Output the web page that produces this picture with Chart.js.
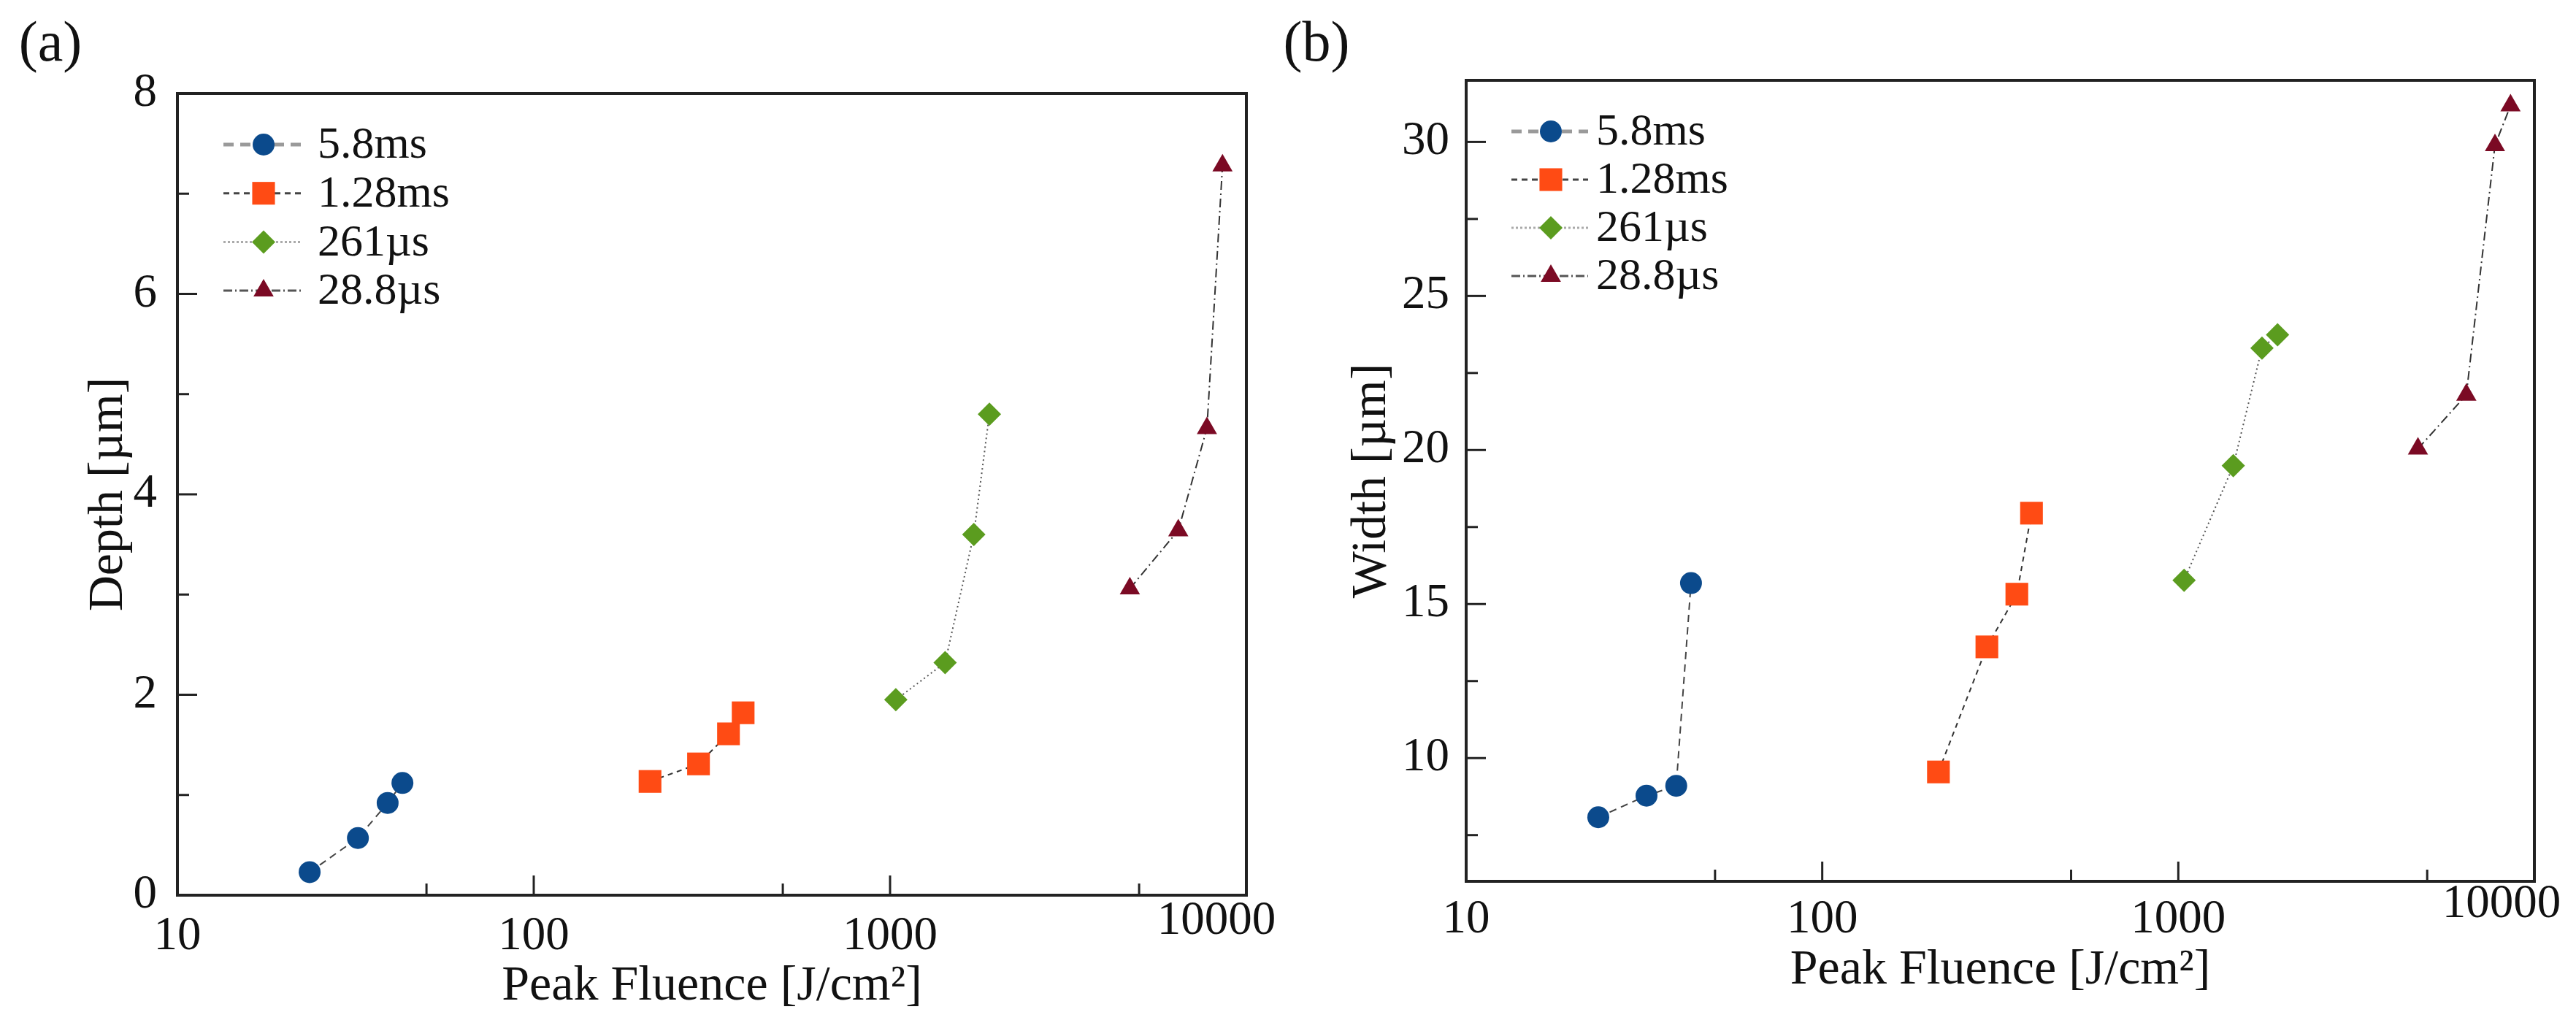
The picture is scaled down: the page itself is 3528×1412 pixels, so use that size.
<!DOCTYPE html>
<html><head><meta charset="utf-8">
<script src="https://cdn.jsdelivr.net/npm/chart.js@4.4.1/dist/chart.umd.min.js"></script>
<style>
html,body{margin:0;padding:0;background:#fff;font-family:"Liberation Serif","DejaVu Serif",serif;}
#wrap{position:relative;width:3528px;height:1412px;overflow:hidden;background:#fff;}
canvas{position:absolute;top:0;}
</style></head><body>
<div id="wrap">
<canvas id="ca" width="1764" height="1412" style="left:0;width:1764px;height:1412px"></canvas>
<canvas id="cb" width="1848" height="1412" style="left:1680px;width:1848px;height:1412px"></canvas>
</div>
<script>
// ---------- data ----------
const seriesLabels = ['5.8ms', '1.28ms', '261µs', '28.8µs'];
const fluence58  = [23.5, 32.1, 38.9, 42.8];
const fluence128 = [212, 290, 352, 387];
const fluence261 = [1038, 1427, 1718, 1900];
const fluence288 = [4710, 6440, 7750, 8570];
const depth58  = [0.23, 0.57, 0.92, 1.12];
const depth128 = [1.135, 1.31, 1.61, 1.82];
const depth261 = [1.95, 2.32, 3.60, 4.80];
const depth288 = [3.06, 3.64, 4.66, 7.28];
const width58  = [8.08, 8.78, 9.10, 15.68];
const width128 = [9.55, 13.61, 15.32, 17.95];
const width261 = [15.77, 19.49, 23.31, 23.74];
const width288 = [20.04, 21.79, 29.89, 31.18];
const xTickValues = [10, 100, 1000, 10000];
const xMinorTickValues = [50, 500, 5000];
const depthTickValues = [0, 2, 4, 6, 8];
const depthMinorTickValues = [1, 3, 5, 7];
const widthTickValues = [10, 15, 20, 25, 30];
const widthMinorTickValues = [7.5, 12.5, 17.5, 22.5, 27.5];

// ---------- styles ----------
const FONT = "'Liberation Serif', 'DejaVu Serif', serif";
const markerColors = ['#0b4a8c', '#ff4b14', '#5b9c1f', '#7b0a24'];
const markerStyles = ['circle', 'rect', 'rectRot', 'triangle'];
const markerRadii = [15, 22, 16, 16];
const lineDashes = [[10, 7], [7, 6], [2, 4], [12, 5, 2, 5]];
const lineColors = ['#444', '#333', '#555', '#333'];
const legendLineColors = ['#9a9a9a', '#444', '#aaa', '#555'];
const legendLineWidths = [5, 3, 3, 3];
const legendDashes = [[14, 9], [8, 6], [3, 3], [12, 4, 2, 4]];

Chart.defaults.font.family = FONT;
Chart.defaults.color = '#111';

const decor = {
  id: 'panelDecor',
  beforeDatasetsDraw(chart) {
    const p = chart.options.plugins.panelDecor;
    const {ctx, chartArea: a, scales: {x, y}} = chart;
    ctx.save();
    ctx.strokeStyle = '#222';
    ctx.lineWidth = 3;
    const seg = (x1, y1, x2, y2) => { ctx.beginPath(); ctx.moveTo(x1, y1); ctx.lineTo(x2, y2); ctx.stroke(); };
    p.xMajor.forEach(v => { const px = x.getPixelForValue(v); seg(px, a.bottom, px, a.bottom - 27); });
    p.xMinor.forEach(v => { const px = x.getPixelForValue(v); seg(px, a.bottom, px, a.bottom - 16); });
    p.yMajor.forEach(v => { const py = y.getPixelForValue(v); seg(a.left, py, a.left + 27, py); });
    p.yMinor.forEach(v => { const py = y.getPixelForValue(v); seg(a.left, py, a.left + 16, py); });
    ctx.lineWidth = 4;
    ctx.strokeRect(a.left, a.top, a.right - a.left, a.bottom - a.top);
    ctx.restore();
  },
  afterDraw(chart) {
    const p = chart.options.plugins.panelDecor;
    const {ctx, chartArea: a, scales: {x}} = chart;
    ctx.save();
    ctx.fillStyle = '#111';
    ctx.textBaseline = 'middle';
    ctx.textAlign = 'center';
    ctx.font = '65px ' + FONT;
    ctx.fillText(String(p.bigValue), x.getPixelForValue(p.bigValue) + p.bigDx, a.bottom + p.bigDy);
    ctx.font = '78px ' + FONT;
    ctx.fillText(p.tag, p.tagX, p.tagY);
    // legend
    const L = p.leg;
    chart.data.datasets.forEach((ds, i) => {
      const ry = a.top + L.row0 + i * L.step;
      ctx.save();
      ctx.strokeStyle = legendLineColors[i];
      ctx.lineWidth = legendLineWidths[i];
      ctx.setLineDash(legendDashes[i]);
      ctx.beginPath(); ctx.moveTo(a.left + L.l0, ry); ctx.lineTo(a.left + L.l1, ry); ctx.stroke();
      ctx.restore();
      ctx.save();
      ctx.fillStyle = markerColors[i];
      ctx.strokeStyle = markerColors[i];
      Chart.helpers.drawPoint(ctx, {pointStyle: markerStyles[i], radius: markerRadii[i], rotation: 0, borderWidth: 0}, a.left + L.m, ry);
      ctx.restore();
      ctx.font = '62px ' + FONT;
      ctx.textAlign = 'left';
      ctx.fillStyle = '#111';
      ctx.fillText(ds.label, a.left + L.t, ry + 2);
    });
    ctx.restore();
  }
};

function makePanel(id, cfg) {
  const canvas = document.getElementById(id);
  const W = canvas.width, H = canvas.height;
  const xs = [fluence58, fluence128, fluence261, fluence288];
  const datasets = seriesLabels.map((lab, i) => ({
    label: lab,
    data: xs[i].map((v, k) => ({x: v, y: cfg.ys[i][k]})),
    showLine: true,
    borderColor: lineColors[i],
    borderWidth: 2,
    borderDash: lineDashes[i],
    backgroundColor: markerColors[i],
    pointBackgroundColor: markerColors[i],
    pointBorderColor: markerColors[i],
    pointBorderWidth: 0,
    pointStyle: markerStyles[i],
    pointRadius: markerRadii[i],
    pointHoverRadius: markerRadii[i]
  }));
  return new Chart(canvas, {
    type: 'scatter',
    data: {datasets},
    plugins: [decor],
    options: {
      responsive: false, animation: false, devicePixelRatio: 1,
      layout: {padding: {top: cfg.area.top, right: W - cfg.area.right, bottom: 0, left: 0}},
      plugins: {
        legend: {display: false}, tooltip: {enabled: false},
        panelDecor: {
          xMajor: xTickValues, xMinor: xMinorTickValues, yMajor: cfg.yTicks, yMinor: cfg.yMinor,
          bigValue: xTickValues[xTickValues.length - 1], bigDx: cfg.bigDx, bigDy: cfg.bigDy,
          tag: cfg.tag, tagX: cfg.tagX, tagY: cfg.tagY, leg: cfg.leg
        }
      },
      scales: {
        x: {
          type: 'logarithmic', position: 'bottom', min: 10, max: 10000,
          afterBuildTicks: s => { s.ticks = xTickValues.map(v => ({value: v})); },
          afterFit: s => { s.height = H - cfg.area.bottom; s.paddingLeft = 0; s.paddingRight = 0; },
          grid: {display: false}, border: {display: false},
          ticks: {autoSkip: false, maxRotation: 0, minRotation: 0, padding: cfg.xLabelPad,
                  font: {size: 65, family: FONT}, color: '#111',
                  callback: v => (v === xTickValues[xTickValues.length - 1] ? '' : String(v))},
          title: {display: true, text: 'Peak Fluence [J/cm²]', font: {size: 68, family: FONT}, color: '#111',
                  padding: {top: 0, bottom: cfg.xTitlePad}}
        },
        y: {
          type: 'linear', position: 'left', min: cfg.yMin, max: cfg.yMax,
          afterBuildTicks: s => { s.ticks = cfg.yTicks.map(v => ({value: v})); },
          afterFit: s => { s.width = cfg.area.left; s.paddingTop = 0; s.paddingBottom = 0; },
          grid: {display: false}, border: {display: false},
          ticks: {padding: cfg.yLabelPad, font: {size: 65, family: FONT}, color: '#111', callback: v => String(v)},
          title: {display: true, text: cfg.yTitle, font: {size: 68, family: FONT}, color: '#111',
                  padding: {top: cfg.yTitlePad, bottom: 0}}
        }
      }
    }
  });
}

makePanel('ca', {
  ys: [depth58, depth128, depth261, depth288],
  yTicks: depthTickValues, yMinor: depthMinorTickValues, yMin: 0, yMax: 8,
  yTitle: 'Depth [µm]',
  area: {left: 243, right: 1707, top: 128, bottom: 1226},
  xLabelPad: 10, yLabelPad: 20, xTitlePad: 20, yTitlePad: 108,
  bigDx: -41, bigDy: 36,
  tag: '(a)', tagX: 69, tagY: 63,
  leg: {l0: 63, l1: 170, m: 118, t: 192, row0: 70, step: 66.7}
});
makePanel('cb', {
  ys: [width58, width128, width261, width288],
  yTicks: widthTickValues, yMinor: widthMinorTickValues, yMin: 6, yMax: 32,
  yTitle: 'Width [µm]',
  area: {left: 328, right: 1791, top: 110, bottom: 1207},
  xLabelPad: 6, yLabelPad: 15, xTitlePad: 42, yTitlePad: 158,
  bigDx: -45, bigDy: 32,
  tag: '(b)', tagX: 123, tagY: 63,
  leg: {l0: 62, l1: 167, m: 116, t: 178, row0: 70, step: 66}
});
</script>
</body></html>
